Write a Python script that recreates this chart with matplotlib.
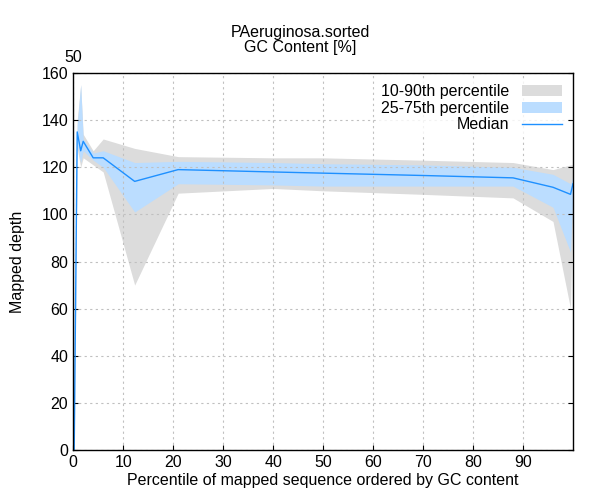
import matplotlib
matplotlib.use("Agg")
import matplotlib.pyplot as plt

x = [0.2, 0.8, 1.5, 2.0, 4.0, 6.0, 12.3, 21.0, 40.0, 50.0, 70.0, 88.0, 96.0, 99.5, 100.0]
median = [0, 135, 127, 131, 124, 124, 114, 119, 118, 117.5, 116.5, 115.5, 111.5, 108.5, 113]
p10 = [0, 128, 120, 124, 121, 118, 70, 109, 111, 110, 108.5, 107, 97, 60, 108]
p90 = [0, 140, 155, 134, 127, 132, 128, 124.5, 124, 124, 123, 122, 119, 121, 121]
p25 = [0, 130, 122, 127, 123, 120, 101, 113, 112.5, 112, 112, 112, 103, 84, 110]
p75 = [0, 138, 155, 132, 126, 127, 122, 122.5, 122, 121.5, 121, 120, 117, 113, 116]

plt.rcParams['font.family'] = ['Liberation Sans', 'DejaVu Sans']
fig = plt.figure(figsize=(6, 5), dpi=100)
ax = fig.add_axes([0.122, 0.1, 0.833, 0.754])
ax.fill_between(x, p10, p90, color='#dcdcdc', lw=0, label='10-90th percentile')
ax.fill_between(x, p25, p75, color='#bbddff', lw=0, label='25-75th percentile')
ax.plot(x, median, color='#1e90ff', lw=1, label='Median')
ax.set_xlim(0, 100)
ax.set_ylim(0, 160)
ax.set_xticks(range(0, 100, 10))
ax.set_yticks(range(0, 161, 20))
ax.grid(True, color='#c0c0c0', ls=(0, (2, 3)), lw=0.8)
ax.tick_params(direction='in', top=False, right=True, labelsize=11.5)
ax.set_xlabel('Percentile of mapped sequence ordered by GC content', fontsize=11.5, labelpad=2)
ax.set_ylabel('Mapped depth', fontsize=11.5, labelpad=12)
ax.text(0, 1.02, '50', transform=ax.transAxes, ha='center', va='bottom', fontsize=11.5)
fig.suptitle('PAeruginosa.sorted\nGC Content [%]', y=0.95, fontsize=11.5, linespacing=1.0)
leg = ax.legend(loc='upper right', frameon=True, fontsize=11.5, handlelength=2.5,
                borderpad=0.2, labelspacing=0.1, markerfirst=False)
leg.get_frame().set_edgecolor('none')
for sp in ax.spines.values():
    sp.set_linewidth(1)
fig.savefig('out.png')
